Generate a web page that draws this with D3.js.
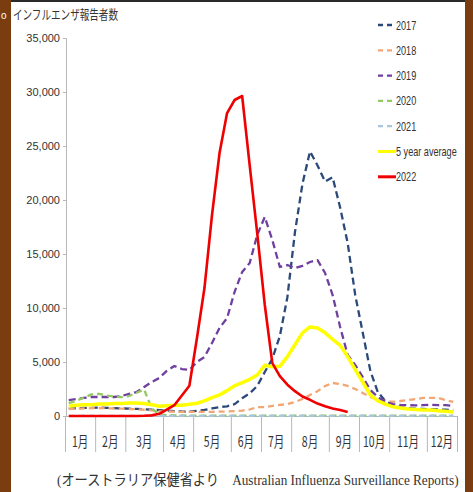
<!DOCTYPE html>
<html>
<head>
<meta charset="utf-8">
<script src="https://cdn.jsdelivr.net/npm/d3@7"></script>
<style>
  html, body { margin: 0; padding: 0; background: #fff; }
  svg { display: block; }
</style>
</head>
<body>
<svg id="chart" width="473" height="492"></svg>
<script>
// Weekly influenza notifications (Australia), one value per week of the year
const months = ["1月","2月","3月","4月","5月","6月","7月","8月","9月","10月","11月","12月"];
const monthWeeks = [4,4,5,4,5,4,4,5,4,4,5,4];
const yTicks = [0,5000,10000,15000,20000,25000,30000,35000];

const s2017 = [700,720,750,760,780,760,730,700,680,660,620,
  580,540,500,460,420,400,480,560,700,830,900,
  1100,1650,2100,2780,4070,5300,7400,11000,17000,21500,24500,
  23200,21700,22100,19300,16000,11200,7700,4200,2200,1400,1000,
  800,700,680,650,620,600,580,560];
const s2018 = [650,680,700,720,740,720,700,680,650,620,580,
  520,460,420,400,380,380,380,380,390,400,420,
  450,500,600,830,830,930,1020,1100,1300,1570,1940,
  2300,2780,3060,2960,2780,2500,2130,1760,1480,1390,1300,
  1390,1480,1570,1670,1670,1670,1480,1300];
const s2019 = [1480,1570,1670,1760,1760,1760,1760,1850,2040,2220,2690,
  3150,3520,4170,4630,4350,4260,5000,5460,6760,8150,9070,
  11500,13330,14170,16760,18430,16300,13800,13980,13700,13900,14260,
  14440,13240,11200,8240,5650,4720,3610,2400,1760,1300,1100,
  1020,1000,980,1000,1050,1000,1000,950];
const s2020 = [1200,1400,1700,2000,2050,1900,1800,1750,1850,2150,2450,
  700,150,80,60,50,40,40,30,30,30,30,
  30,30,30,30,30,30,30,30,30,30,30,
  30,30,30,30,30,30,30,30,30,30,30,
  30,30,30,30,30,30,30,30];
const s2021 = [20,20,20,20,20,20,20,20,20,20,20,
  20,20,20,20,20,20,20,20,20,20,20,
  20,20,20,20,20,20,20,20,20,20,20,
  20,20,20,20,20,20,20,20,20,20,20,
  20,20,20,20,20,20,20,20];
const sAvg = [900,1000,1050,1050,1100,1100,1150,1150,1200,1200,1150,
  1050,900,950,1000,1000,1080,1180,1400,1700,1950,2350,
  2800,3100,3400,3800,4700,4550,4600,5500,6600,7700,8250,
  8150,7700,7100,6550,5500,4300,3150,1950,1400,1100,850,
  750,650,600,550,550,480,450,380];
const s2022 = [0,0,0,0,0,0,0,0,0,0,20,
  60,200,600,1000,1900,2800,7200,11850,18600,24350,28050,
  29260,29630,23200,16900,10300,4900,3700,2900,2300,1800,1500,
  1150,900,700,550,380];

const series = [
  { name: "2017", values: s2017, color: "#2B4A7A", width: 2.3, dash: "7,4" },
  { name: "2018", values: s2018, color: "#F2A673", width: 2.3, dash: "6,4" },
  { name: "2019", values: s2019, color: "#7040A0", width: 2.3, dash: "7,4" },
  { name: "2020", values: s2020, color: "#94C860", width: 2.3, dash: "6,4" },
  { name: "2021", values: s2021, color: "#A8C6E0", width: 2.3, dash: "6,4" },
  { name: "5 year average", values: sAvg, color: "#FFFF00", width: 3.5, dash: null },
  { name: "2022", values: s2022, color: "#F00000", width: 2.6, dash: null }
];

const svg = d3.select("#chart");
const W = 473, H = 492;

// frame: brown side bands and dark top edge
svg.append("rect").attr("x", 0).attr("y", 0).attr("width", W).attr("height", H).attr("fill", "#fff");
svg.append("rect").attr("x", 0).attr("y", 0).attr("width", 11).attr("height", H).attr("fill", "#7A3D10");
svg.append("rect").attr("x", 465).attr("y", 0).attr("width", 8).attr("height", H).attr("fill", "#7A3D10");
svg.append("rect").attr("x", 11).attr("y", 0).attr("width", 454).attr("height", 2).attr("fill", "#2a2a2a");
svg.append("text").attr("x", 1).attr("y", 19).attr("fill", "#fff")
  .attr("font-family", "Liberation Sans, Arial, sans-serif").attr("font-size", 10).text("o");

const nWeeks = d3.sum(monthWeeks);
const x = d3.scaleLinear().domain([0, nWeeks]).range([65, 457]);
const y = d3.scaleLinear().domain([0, 35000]).range([416, 38]);

// title
svg.append("text")
  .attr("x", 13).attr("y", 19)
  .attr("font-family", "Noto Sans CJK JP, sans-serif")
  .attr("font-size", 13).attr("fill", "#333")
  .attr("textLength", 105).attr("lengthAdjust", "spacingAndGlyphs")
  .text("インフルエンザ報告者数");

// y axis
const yAxis = svg.append("g").attr("transform", "translate(66,0)")
  .call(d3.axisLeft(y).tickValues(yTicks).tickFormat(d3.format(",")).tickSize(3).tickPadding(3));
yAxis.select(".domain").attr("stroke", "#b8b8b8");
yAxis.selectAll(".tick line").attr("stroke", "#b8b8b8");
yAxis.selectAll(".tick text")
  .attr("font-family", "Liberation Sans, Arial, sans-serif")
  .attr("font-size", 11).attr("fill", "#333");

// x axis: month boundaries drawn as long ticks, labels centred in each month
const bounds = [0, ...Array.from(d3.cumsum(monthWeeks))];
const xAxis = svg.append("g").attr("transform", "translate(0,416)")
  .call(d3.axisBottom(x).tickValues(bounds).tickFormat("").tickSize(36).tickSizeOuter(0));
xAxis.select(".domain").attr("stroke", "#b8b8b8");
xAxis.selectAll(".tick line").attr("stroke", "#b8b8b8");

months.forEach((m, i) => {
  const cx = x((bounds[i] + bounds[i + 1]) / 2);
  svg.append("text")
    .attr("transform", `translate(${cx},447) scale(0.7,1)`)
    .attr("text-anchor", "middle")
    .attr("font-family", "Noto Sans CJK JP, sans-serif")
    .attr("font-size", 15).attr("fill", "#333")
    .text(m);
});

// series lines
const line = d3.line()
  .x((d, i) => x(i + 0.5))
  .y(d => y(d));

const gLines = svg.append("g");
series.forEach(s => {
  gLines.append("path")
    .datum(s.values)
    .attr("d", line)
    .attr("fill", "none")
    .attr("stroke", s.color)
    .attr("stroke-width", s.width)
    .attr("stroke-linejoin", "round")
    .attr("stroke-dasharray", s.dash);
});

// legend
const legend = svg.append("g");
series.forEach((s, i) => {
  const ly = 25 + i * 25.3;
  legend.append("line")
    .attr("x1", 378).attr("x2", s.dash ? 394 : 396)
    .attr("y1", ly).attr("y2", ly)
    .attr("stroke", s.color)
    .attr("stroke-width", s.dash ? 2.3 : 3)
    .attr("stroke-dasharray", s.dash ? "5,4" : null);
  legend.append("text")
    .attr("transform", `translate(396,${ly + 4.5}) scale(0.7,1)`)
    .attr("font-family", "Liberation Sans, Arial, sans-serif")
    .attr("font-size", 13).attr("fill", "#333")
    .text(s.name);
});

// source note, squeezed horizontally to span the plot width
const note = svg.append("text")
  .attr("font-family", "Liberation Serif, Noto Sans CJK JP, serif")
  .attr("font-size", 15).attr("fill", "#333")
  .text("(オーストラリア保健省より　Australian Influenza Surveillance Reports)");
const noteW = note.node().getComputedTextLength();
note.attr("transform", `translate(57,485) scale(${Math.min(1, 402 / noteW)},1)`);
</script>
</body>
</html>
